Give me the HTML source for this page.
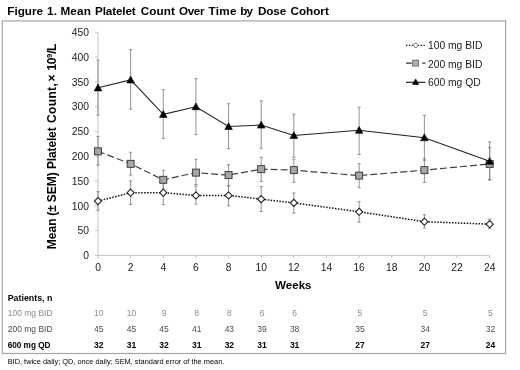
<!DOCTYPE html><html><head><meta charset="utf-8"><title>Figure 1</title>
<style>html,body{margin:0;padding:0;background:#fff;overflow:hidden}svg{display:block;filter:blur(0.35px)}text{font-family:"Liberation Sans",Arial,sans-serif}</style></head><body>
<svg width="520" height="370" viewBox="0 0 520 370">
<rect width="520" height="370" fill="#fff"/>
<text y="15.2" font-size="11.7" font-weight="bold" fill="#000"><tspan x="7.35" letter-spacing="0">Figure</tspan> <tspan x="46.95" letter-spacing="0.4">1.</tspan> <tspan x="60.45" letter-spacing="0.2">Mean</tspan> <tspan x="95.05" letter-spacing="-0.13">Platelet</tspan> <tspan x="140.7" letter-spacing="0.1">Count</tspan> <tspan x="178.9" letter-spacing="-0.33">Over</tspan> <tspan x="208.55" letter-spacing="0.3">Time</tspan> <tspan x="240.25" letter-spacing="-0.9">by</tspan> <tspan x="257.95" letter-spacing="-0.13">Dose</tspan> <tspan x="290.5" letter-spacing="0">Cohort</tspan></text>
<rect x="2.3" y="20.9" width="503.3" height="332.6" fill="#fff" stroke="#a6a6a6" stroke-width="1.2"/>
<g stroke="#c4c4c4" stroke-width="1" fill="none">
<path d="M98.0 32.33500000000001V255.4H489.68"/>
<path d="M95.0 255.40H98.0"/>
<path d="M95.0 230.62H98.0"/>
<path d="M95.0 205.83H98.0"/>
<path d="M95.0 181.05H98.0"/>
<path d="M95.0 156.26H98.0"/>
<path d="M95.0 131.48H98.0"/>
<path d="M95.0 106.69H98.0"/>
<path d="M95.0 81.91H98.0"/>
<path d="M95.0 57.12H98.0"/>
<path d="M95.0 32.34H98.0"/>
<path d="M98.00 255.4v3"/>
<path d="M130.64 255.4v3"/>
<path d="M163.28 255.4v3"/>
<path d="M195.92 255.4v3"/>
<path d="M228.56 255.4v3"/>
<path d="M261.20 255.4v3"/>
<path d="M293.84 255.4v3"/>
<path d="M326.48 255.4v3"/>
<path d="M359.12 255.4v3"/>
<path d="M391.76 255.4v3"/>
<path d="M424.40 255.4v3"/>
<path d="M457.04 255.4v3"/>
<path d="M489.68 255.4v3"/>
</g>
<g font-size="10.3" fill="#1a1a1a" text-anchor="end">
<text x="89" y="259.10">0</text>
<text x="89" y="234.31">50</text>
<text x="89" y="209.53">100</text>
<text x="89" y="184.75">150</text>
<text x="89" y="159.96">200</text>
<text x="89" y="135.18">250</text>
<text x="89" y="110.39">300</text>
<text x="89" y="85.61">350</text>
<text x="89" y="60.82">400</text>
<text x="89" y="36.04">450</text>
</g>
<g font-size="10.3" fill="#1a1a1a" text-anchor="middle">
<text x="98.00" y="270.6">0</text>
<text x="130.64" y="270.6">2</text>
<text x="163.28" y="270.6">4</text>
<text x="195.92" y="270.6">6</text>
<text x="228.56" y="270.6">8</text>
<text x="261.20" y="270.6">10</text>
<text x="293.84" y="270.6">12</text>
<text x="326.48" y="270.6">14</text>
<text x="359.12" y="270.6">16</text>
<text x="391.76" y="270.6">18</text>
<text x="424.40" y="270.6">20</text>
<text x="457.04" y="270.6">22</text>
<text x="489.68" y="270.6">24</text>
</g>
<text transform="translate(55.8 0) rotate(-90)" y="0" font-size="12" font-weight="bold" fill="#000"><tspan x="-249.2" letter-spacing="0">Mean</tspan> <tspan x="-215.8" letter-spacing="0">(±</tspan> <tspan x="-202.3" letter-spacing="0">SEM)</tspan> <tspan x="-169.0" letter-spacing="-0.15">Platelet</tspan> <tspan x="-123.0" letter-spacing="0.35">Count,</tspan> <tspan x="-81.5" letter-spacing="0">×</tspan> <tspan x="-70.4" letter-spacing="-0.5">10</tspan><tspan font-size="7.6" dy="-3.8" letter-spacing="0">9</tspan><tspan dy="3.8" letter-spacing="-0.6">/L</tspan></text>
<text x="293.3" y="289" font-size="11.6" font-weight="bold" fill="#000" text-anchor="middle">Weeks</text>
<g stroke="#808080" stroke-width="0.85" fill="none">
<path d="M98.00 191.70V210.29M96.40 191.70h3.2M96.40 210.29h3.2"/>
<path d="M130.64 180.80V204.59M129.04 180.80h3.2M129.04 204.59h3.2"/>
<path d="M163.28 181.29V204.59M161.68 181.29h3.2M161.68 204.59h3.2"/>
<path d="M195.92 186.00V204.10M194.32 186.00h3.2M194.32 204.10h3.2"/>
<path d="M228.56 185.51V205.83M226.96 185.51h3.2M226.96 205.83h3.2"/>
<path d="M261.20 186.50V211.53M259.60 186.50h3.2M259.60 211.53h3.2"/>
<path d="M293.84 192.94V213.02M292.24 192.94h3.2M292.24 213.02h3.2"/>
<path d="M359.12 201.62V222.19M357.52 201.62h3.2M357.52 222.19h3.2"/>
<path d="M424.40 214.75V228.14M422.80 214.75h3.2M422.80 228.14h3.2"/>
<path d="M489.68 219.21V228.63M488.08 219.21h3.2M488.08 228.63h3.2"/>
</g>
<polyline points="98.00,201.12 130.64,192.69 163.28,192.69 195.92,195.42 228.56,195.42 261.20,199.14 293.84,202.86 359.12,211.78 424.40,221.69 489.68,224.17" fill="none" stroke="#111" stroke-width="1.5" stroke-dasharray="1.5 1.45"/>
<path d="M98.00 197.52L101.60 201.12L98.00 204.72L94.40 201.12Z" fill="#fff" stroke="#1a1a1a" stroke-width="1.05"/>
<path d="M130.64 189.09L134.24 192.69L130.64 196.29L127.04 192.69Z" fill="#fff" stroke="#1a1a1a" stroke-width="1.05"/>
<path d="M163.28 189.09L166.88 192.69L163.28 196.29L159.68 192.69Z" fill="#fff" stroke="#1a1a1a" stroke-width="1.05"/>
<path d="M195.92 191.82L199.52 195.42L195.92 199.02L192.32 195.42Z" fill="#fff" stroke="#1a1a1a" stroke-width="1.05"/>
<path d="M228.56 191.82L232.16 195.42L228.56 199.02L224.96 195.42Z" fill="#fff" stroke="#1a1a1a" stroke-width="1.05"/>
<path d="M261.20 195.54L264.80 199.14L261.20 202.74L257.60 199.14Z" fill="#fff" stroke="#1a1a1a" stroke-width="1.05"/>
<path d="M293.84 199.26L297.44 202.86L293.84 206.46L290.24 202.86Z" fill="#fff" stroke="#1a1a1a" stroke-width="1.05"/>
<path d="M359.12 208.18L362.72 211.78L359.12 215.38L355.52 211.78Z" fill="#fff" stroke="#1a1a1a" stroke-width="1.05"/>
<path d="M424.40 218.09L428.00 221.69L424.40 225.29L420.80 221.69Z" fill="#fff" stroke="#1a1a1a" stroke-width="1.05"/>
<path d="M489.68 220.57L493.28 224.17L489.68 227.77L486.08 224.17Z" fill="#fff" stroke="#1a1a1a" stroke-width="1.05"/>
<g stroke="#808080" stroke-width="0.85" fill="none">
<path d="M98.00 136.43V165.18M96.40 136.43h3.2M96.40 165.18h3.2"/>
<path d="M130.64 152.29V175.10M129.04 152.29h3.2M129.04 175.10h3.2"/>
<path d="M163.28 170.14V188.98M161.68 170.14h3.2M161.68 188.98h3.2"/>
<path d="M195.92 159.23V184.51M194.32 159.23h3.2M194.32 184.51h3.2"/>
<path d="M228.56 164.69V186.00M226.96 164.69h3.2M226.96 186.00h3.2"/>
<path d="M261.20 157.25V181.54M259.60 157.25h3.2M259.60 181.54h3.2"/>
<path d="M293.84 159.23V182.28M292.24 159.23h3.2M292.24 182.28h3.2"/>
<path d="M359.12 163.70V187.74M357.52 163.70h3.2M357.52 187.74h3.2"/>
<path d="M424.40 158.74V182.53M422.80 158.74h3.2M422.80 182.53h3.2"/>
<path d="M489.68 147.59V179.56M488.08 147.59h3.2M488.08 179.56h3.2"/>
</g>
<polyline points="98.00,151.30 130.64,163.84 163.28,179.81 195.92,172.62 228.56,175.10 261.20,169.15 293.84,170.14 359.12,175.59 424.40,170.14 489.68,163.94" fill="none" stroke="#404040" stroke-width="1.2" stroke-dasharray="7 3"/>
<rect x="94.50" y="147.80" width="7.0" height="7.0" fill="#a6a6a6" stroke="#333" stroke-width="0.9"/>
<rect x="127.14" y="160.34" width="7.0" height="7.0" fill="#a6a6a6" stroke="#333" stroke-width="0.9"/>
<rect x="159.78" y="176.31" width="7.0" height="7.0" fill="#a6a6a6" stroke="#333" stroke-width="0.9"/>
<rect x="192.42" y="169.12" width="7.0" height="7.0" fill="#a6a6a6" stroke="#333" stroke-width="0.9"/>
<rect x="225.06" y="171.60" width="7.0" height="7.0" fill="#a6a6a6" stroke="#333" stroke-width="0.9"/>
<rect x="257.70" y="165.65" width="7.0" height="7.0" fill="#a6a6a6" stroke="#333" stroke-width="0.9"/>
<rect x="290.34" y="166.64" width="7.0" height="7.0" fill="#a6a6a6" stroke="#333" stroke-width="0.9"/>
<rect x="355.62" y="172.09" width="7.0" height="7.0" fill="#a6a6a6" stroke="#333" stroke-width="0.9"/>
<rect x="420.90" y="166.64" width="7.0" height="7.0" fill="#a6a6a6" stroke="#333" stroke-width="0.9"/>
<rect x="486.18" y="160.44" width="7.0" height="7.0" fill="#a6a6a6" stroke="#333" stroke-width="0.9"/>
<g stroke="#808080" stroke-width="0.85" fill="none">
<path d="M98.00 60.09V115.12M96.40 60.09h3.2M96.40 115.12h3.2"/>
<path d="M130.64 49.44V109.17M129.04 49.44h3.2M129.04 109.17h3.2"/>
<path d="M163.28 89.59V138.41M161.68 89.59h3.2M161.68 138.41h3.2"/>
<path d="M195.92 78.68V134.70M194.32 78.68h3.2M194.32 134.70h3.2"/>
<path d="M228.56 103.72V148.58M226.96 103.72h3.2M226.96 148.58h3.2"/>
<path d="M261.20 100.74V148.33M259.60 100.74h3.2M259.60 148.33h3.2"/>
<path d="M293.84 114.13V157.25M292.24 114.13h3.2M292.24 157.25h3.2"/>
<path d="M359.12 107.19V154.53M357.52 107.19h3.2M357.52 154.53h3.2"/>
<path d="M424.40 115.36V160.23M422.80 115.36h3.2M422.80 160.23h3.2"/>
<path d="M489.68 141.88V180.05M488.08 141.88h3.2M488.08 180.05h3.2"/>
</g>
<polyline points="98.00,87.85 130.64,79.92 163.28,114.37 195.92,106.69 228.56,126.52 261.20,125.03 293.84,135.44 359.12,130.24 424.40,137.67 489.68,161.22" fill="none" stroke="#222" stroke-width="1.05"/>
<path d="M98.00 84.05L101.80 90.89H94.20Z" fill="#000" stroke="#000" stroke-width="0.6"/>
<path d="M130.64 76.12L134.44 82.96H126.84Z" fill="#000" stroke="#000" stroke-width="0.6"/>
<path d="M163.28 110.57L167.08 117.41H159.48Z" fill="#000" stroke="#000" stroke-width="0.6"/>
<path d="M195.92 102.89L199.72 109.73H192.12Z" fill="#000" stroke="#000" stroke-width="0.6"/>
<path d="M228.56 122.72L232.36 129.56H224.76Z" fill="#000" stroke="#000" stroke-width="0.6"/>
<path d="M261.20 121.23L265.00 128.07H257.40Z" fill="#000" stroke="#000" stroke-width="0.6"/>
<path d="M293.84 131.64L297.64 138.48H290.04Z" fill="#000" stroke="#000" stroke-width="0.6"/>
<path d="M359.12 126.44L362.92 133.28H355.32Z" fill="#000" stroke="#000" stroke-width="0.6"/>
<path d="M424.40 133.87L428.20 140.71H420.60Z" fill="#000" stroke="#000" stroke-width="0.6"/>
<path d="M489.68 157.42L493.48 164.26H485.88Z" fill="#000" stroke="#000" stroke-width="0.6"/>
<path d="M406 45.4H425.5" stroke="#111" stroke-width="1.4" stroke-dasharray="1.4 1.5"/>
<path d="M415.6 42.8L418.20000000000005 45.4L415.6 48.0L413.0 45.4Z" fill="#fff" stroke="#444" stroke-width="0.8"/>
<path d="M406 63.1H411.8M422.3 63.1H425.5" stroke="#333" stroke-width="1.2"/>
<rect x="412.6" y="60.1" width="6" height="6" fill="#adadad" stroke="#666" stroke-width="0.8"/>
<path d="M406 82.3H425.5" stroke="#111" stroke-width="1.1"/>
<path d="M415.60 78.90L418.70 84.48H412.50Z" fill="#000" stroke="#000" stroke-width="0.6"/>
<g font-size="10.3" fill="#1a1a1a">
<text x="428" y="49.1">100 mg BID</text><text x="428" y="67.6">200 mg BID</text><text x="428" y="86.3">600 mg QD</text>
</g>
<text x="7.7" y="301.3" font-size="8.85" font-weight="bold" fill="#000">Patients, n</text>
<g font-size="8.5" fill="#8c8c8c" font-weight="normal"><text x="7.7" y="316.2" font-size="8.5">100 mg BID</text><g text-anchor="middle">
<text x="98.80" y="316.2">10</text>
<text x="131.44" y="316.2">10</text>
<text x="164.08" y="316.2">9</text>
<text x="196.72" y="316.2">8</text>
<text x="229.36" y="316.2">8</text>
<text x="262.00" y="316.2">6</text>
<text x="294.64" y="316.2">6</text>
<text x="359.92" y="316.2">5</text>
<text x="425.20" y="316.2">5</text>
<text x="490.48" y="316.2">5</text>
</g></g>
<g font-size="8.5" fill="#4d4d4d" font-weight="normal"><text x="7.7" y="332.0" font-size="8.5">200 mg BID</text><g text-anchor="middle">
<text x="98.80" y="332.0">45</text>
<text x="131.44" y="332.0">45</text>
<text x="164.08" y="332.0">45</text>
<text x="196.72" y="332.0">41</text>
<text x="229.36" y="332.0">43</text>
<text x="262.00" y="332.0">39</text>
<text x="294.64" y="332.0">38</text>
<text x="359.92" y="332.0">35</text>
<text x="425.20" y="332.0">34</text>
<text x="490.48" y="332.0">32</text>
</g></g>
<g font-size="8.5" fill="#000" font-weight="bold"><text x="7.7" y="348.0" font-size="8.2">600 mg QD</text><g text-anchor="middle">
<text x="98.80" y="348.0">32</text>
<text x="131.44" y="348.0">31</text>
<text x="164.08" y="348.0">32</text>
<text x="196.72" y="348.0">31</text>
<text x="229.36" y="348.0">32</text>
<text x="262.00" y="348.0">31</text>
<text x="294.64" y="348.0">31</text>
<text x="359.92" y="348.0">27</text>
<text x="425.20" y="348.0">27</text>
<text x="490.48" y="348.0">24</text>
</g></g>
<text x="7.7" y="363.6" font-size="7.4" fill="#000" textLength="216.6" lengthAdjust="spacing">BID, twice daily; QD, once daily; SEM, standard error of the mean.</text>
</svg></body></html>
